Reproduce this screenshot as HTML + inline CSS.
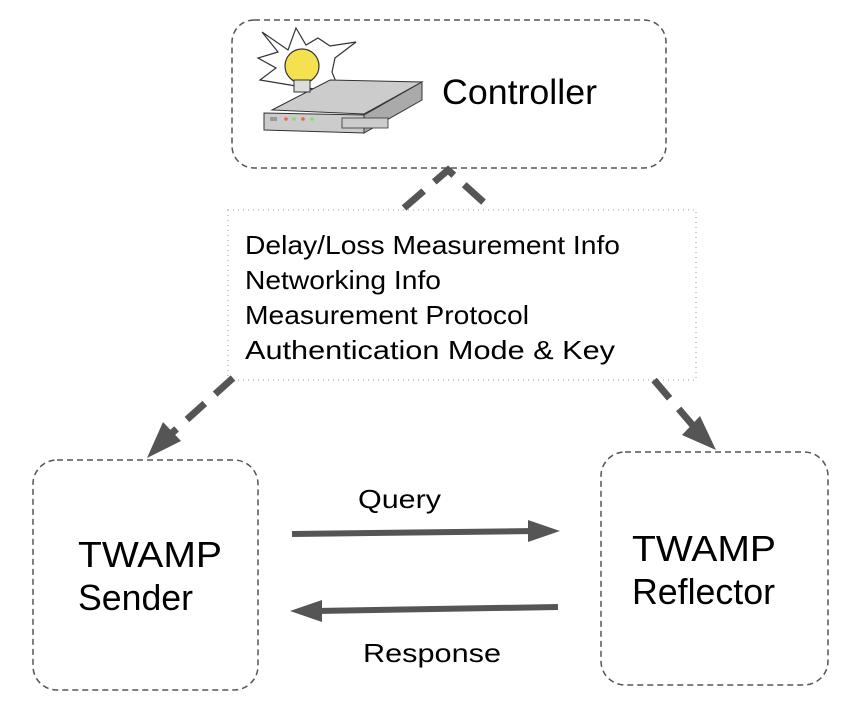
<!DOCTYPE html>
<html><head><style>
body{margin:0;background:#fff;width:852px;height:704px;overflow:hidden}
svg text{font-family:"Liberation Sans",sans-serif;fill:#000}
</style></head><body>
<svg width="852" height="704" viewBox="0 0 852 704">
<g fill="none" stroke="#555" stroke-width="1.5" stroke-dasharray="6,4">
<rect x="232" y="20" width="434" height="148" rx="22"/>
<rect x="33" y="460" width="225" height="230" rx="24"/>
<rect x="601" y="452" width="227" height="233" rx="24"/>
</g>
<rect x="228" y="210" width="468" height="170" fill="none" stroke="#bbb" stroke-width="1.5" stroke-dasharray="1,4"/>
<g stroke="#555" stroke-width="7" fill="none" stroke-dasharray="26,14">
<path d="M404 208 L448 170 L490 208"/>
</g>
<g stroke="#555" stroke-width="7" stroke-dasharray="24,14">
<line x1="233" y1="378" x2="172" y2="433"/>
<line x1="654" y1="380" x2="695" y2="428"/>
</g>
<polygon points="147,458 163,422 181,441" fill="#555"/>
<polygon points="716,450 682,435 700,416" fill="#555"/>
<line x1="292" y1="534" x2="535" y2="531" stroke="#555" stroke-width="6"/>
<polygon points="560,531 528,520 528,542" fill="#555"/>
<line x1="558" y1="607" x2="316" y2="611" stroke="#555" stroke-width="6"/>
<polygon points="290,611 322,600 322,622" fill="#555"/>
<path d="M262 32 L288 50 L296 28 L306 45 L318 38 L330 46 L356 42 L335 58 L332 72 L340 92 L320 90 L260 80 L276 68 L258 58 L278 52 Z" fill="#fff" stroke="#333" stroke-width="1.2"/>
<polygon points="272,110 330,80 422,82 364,114" fill="#ccc" stroke="#333" stroke-width="1"/>
<polygon points="264,113 364,115 364,133 264,130" fill="#ccc" stroke="#333" stroke-width="1"/>
<polygon points="364,115 422,82 422,100 364,133" fill="#aaa" stroke="#333" stroke-width="1"/>
<rect x="342" y="118" width="46" height="10" fill="#ccc" stroke="#333" stroke-width="0.8"/>
<rect x="270" y="117" width="7" height="4" fill="#999"/>
<circle cx="286" cy="119" r="1.8" fill="#e64"/><circle cx="294" cy="119" r="1.8" fill="#8d6"/><circle cx="303" cy="119" r="1.8" fill="#e64"/><circle cx="312" cy="119" r="1.8" fill="#8d6"/>
<circle cx="302" cy="66" r="17" fill="#f5e050" stroke="#333" stroke-width="1.2"/>
<rect x="294" y="80" width="16" height="12" fill="#ddd" stroke="#333" stroke-width="1"/>
<text x="442" y="104" font-size="35" textLength="155" lengthAdjust="spacingAndGlyphs">Controller</text>
<g font-size="26">
<text x="245" y="254" textLength="375" lengthAdjust="spacingAndGlyphs">Delay/Loss Measurement Info</text>
<text x="245" y="289" textLength="196" lengthAdjust="spacingAndGlyphs">Networking Info</text>
<text x="245" y="324" textLength="284" lengthAdjust="spacingAndGlyphs">Measurement Protocol</text>
<text x="245" y="359" textLength="370" lengthAdjust="spacingAndGlyphs">Authentication Mode &amp; Key</text>
<text x="358" y="508" textLength="83" lengthAdjust="spacingAndGlyphs">Query</text>
<text x="363" y="662" textLength="138" lengthAdjust="spacingAndGlyphs">Response</text>
</g>
<g font-size="36">
<text x="78" y="567" textLength="144" lengthAdjust="spacingAndGlyphs">TWAMP</text>
<text x="78" y="610" textLength="115" lengthAdjust="spacingAndGlyphs">Sender</text>
<text x="632" y="561" textLength="144" lengthAdjust="spacingAndGlyphs">TWAMP</text>
<text x="632" y="604" textLength="143" lengthAdjust="spacingAndGlyphs">Reflector</text>
</g>
</svg>
</body></html>
